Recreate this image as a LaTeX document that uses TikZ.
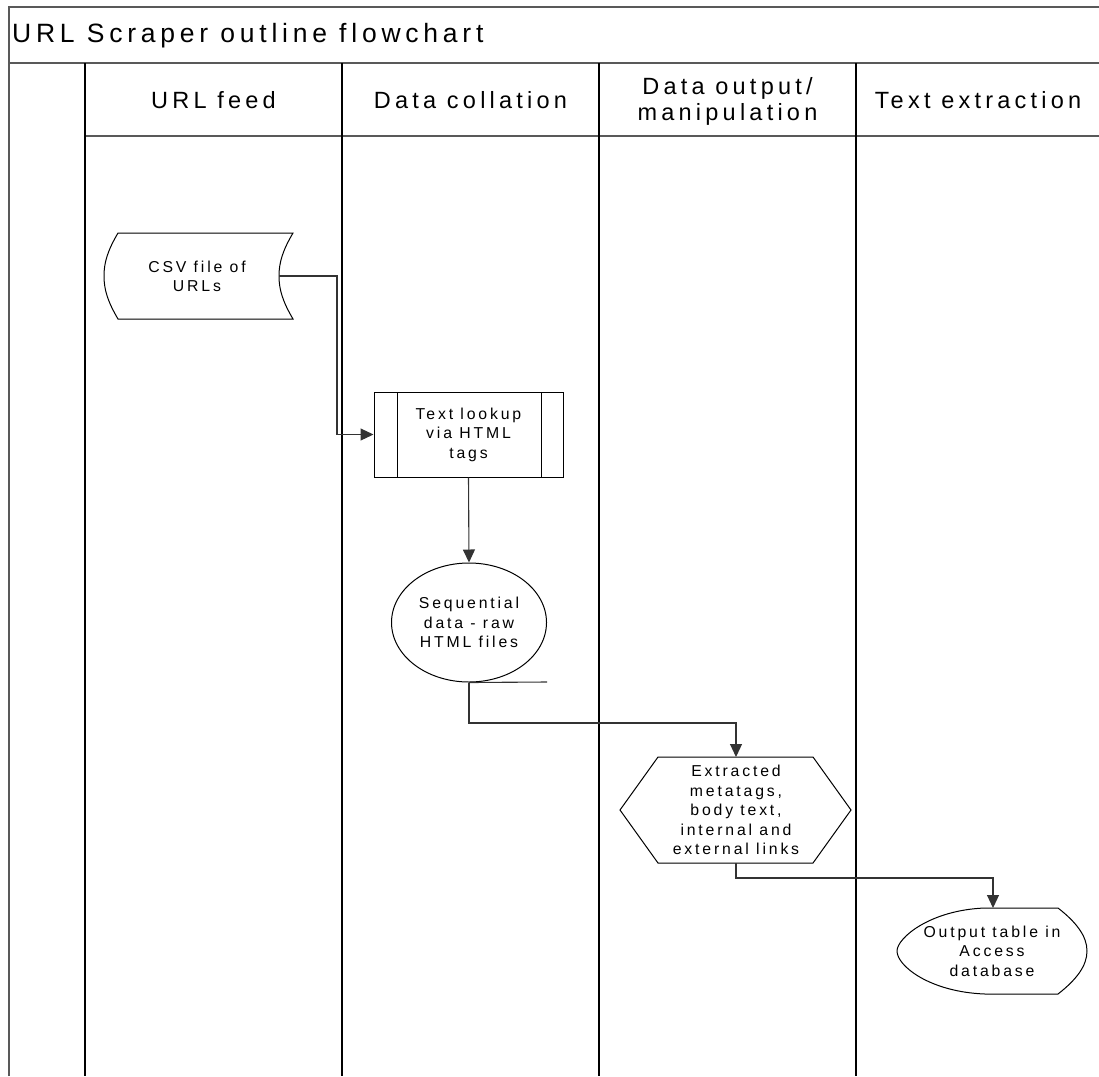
\documentclass[tikz,border=0pt]{standalone}
\usepackage{fontspec}
\usetikzlibrary{arrows.meta,shapes.geometric}
\newfontfamily\wsans[LetterSpace=18]{Liberation Sans}
\begin{document}
\begin{tikzpicture}[x=1pt,y=-1pt,
  frame/.style={line width=2pt,draw=black!65},
  lane/.style={line width=1.5pt,draw=black},
  shapeline/.style={line width=1pt,draw=black},
  conn/.style={line width=1.1pt,draw=black!80},
  tip/.style={-{Triangle[length=13pt,width=12pt]}},
  title/.style={font=\wsans\fontsize{26.5}{30}\selectfont,inner sep=0pt},
  lanehead/.style={font=\wsans\fontsize{23.5}{26}\selectfont,align=center,inner sep=0pt},
  label/.style={font=\wsans\fontsize{15.8}{19.5}\selectfont,align=center,inner sep=0pt}]
\useasboundingbox (0,0) rectangle (1099,1076);

% pool frame and header rows
\draw[frame] (9,1076) -- (9,7) -- (1099,7);
\draw[frame] (9,63) -- (1099,63);
\draw[frame] (85,136) -- (1099,136);
\foreach \x in {85,342,599,856} \draw[lane] (\x,63) -- (\x,1076);

\node[title,anchor=west] (ttl) at (12,36) {URL Scraper outline flowchart};
\node[lanehead] (h1) at (213.5,100) {URL feed};
\node[lanehead] (h2) at (470.5,100) {Data collation};
\node[lanehead] (h3) at (727.5,101) {Data output/\\manipulation};
\node[lanehead] (h4) at (978,100) {Text extraction};

% stored data: CSV file
\draw[shapeline,fill=white] (118,233) -- (293,233)
  .. controls (283,250) and (279,262) .. (279,276)
  .. controls (279,290) and (283,302) .. (293,319)
  -- (118,319)
  .. controls (108,302) and (104,290) .. (104,276)
  .. controls (104,262) and (108,250) .. (118,233) -- cycle;
\node[label] (csv) at (197,276.5) {CSV file of\\URLs};
\coordinate (csvout) at (279,276);

% predefined process: text lookup
\node[shapeline,draw,fill=white,minimum width=189,minimum height=85,inner sep=0pt] (lookup) at (468.5,434.5) {};
\draw[shapeline] (397,392) -- (397,477) (541,392) -- (541,477);
\node[label] at (lookup) {Text lookup\\via HTML\\tags};

% sequential data
\node[shapeline,draw,ellipse,fill=white,minimum width=155,minimum height=119,inner sep=0pt,label] (seq) at (469,622.5) {Sequential\\data - raw\\HTML files};

% preparation: extracted content
\draw[shapeline,fill=white] (620,810) -- (658,757) -- (813,757) -- (851,810) -- (813,863) -- (658,863) -- cycle;
\node[label] (hex) at (736,810) {Extracted\\metatags,\\body text,\\internal and\\external links};
\coordinate (hexin) at (736,757);
\coordinate (hexout) at (736,863);

% display: output table
\draw[shapeline,fill=white] (1058,908) -- (985,908)
  .. controls (930,910) and (897,938) .. (897,951)
  .. controls (897,966) and (930,992) .. (985,994)
  -- (1058,994)
  .. controls (1076,980) and (1087,966) .. (1087,951)
  .. controls (1087,936) and (1076,922) .. (1058,908) -- cycle;
\node[label] (out) at (992,951) {Output table in\\Access\\database};
\coordinate (outin) at (993,908);

% connectors
\draw[conn,tip] (csvout) -- (337,276) |- (lookup.west);
\draw[conn,tip] (lookup.south) -- (seq.north);
\draw[conn] (seq.south) -- (547,682);
\draw[conn,tip] (seq.south) -- (469,723) -| (hexin);
\draw[conn,tip] (hexout) -- (736,878) -| (outin);
\end{tikzpicture}
\end{document}
